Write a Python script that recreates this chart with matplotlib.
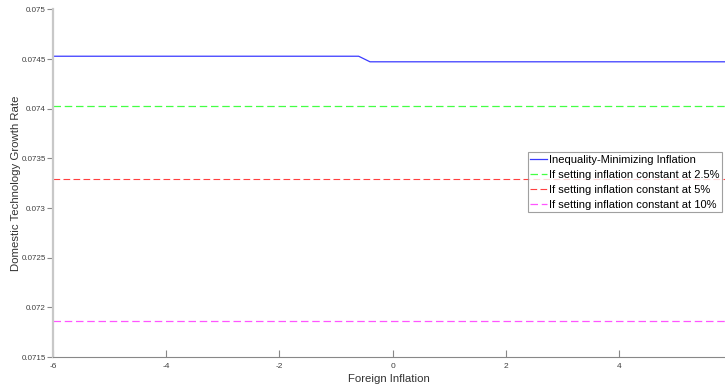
import matplotlib.pyplot as plt

plt.rcParams["font.family"] = ["Liberation Sans", "DejaVu Sans"]

# foreign inflation grid points and growth rate under the optimal policy
foreign_inflation = [-6.0, -0.6, -0.4, 5.9]
optimal_growth = [0.074528, 0.074528, 0.074472, 0.074472]

# growth rates when inflation is held fixed
const_25 = 0.074028
const_5 = 0.073292
const_10 = 0.071865

xticks = [-6, -4, -2, 0, 2, 4]
yticks = [0.0715, 0.072, 0.0725, 0.073, 0.0735, 0.074, 0.0745, 0.075]
ytick_labels = ["0.0715", "0.072", "0.0725", "0.073", "0.0735", "0.074", "0.0745", "0.075"]

fig = plt.figure(figsize=(7.25, 3.89), dpi=100)
ax = fig.add_axes([0.073, 0.082, 0.927, 0.894])

xs = [foreign_inflation[0], foreign_inflation[-1]]
dash = (0, (6, 3))
ax.plot(foreign_inflation, optimal_growth, color="#3a3aff", lw=0.9,
        label="Inequality-Minimizing Inflation")
ax.plot(xs, [const_25] * 2, color="#44ff44", lw=0.9, ls=dash,
        label="If setting inflation constant at 2.5%")
ax.plot(xs, [const_5] * 2, color="#ff4040", lw=0.8, ls=dash,
        label="If setting inflation constant at 5%")
ax.plot(xs, [const_10] * 2, color="#ff55ff", lw=0.9, ls=dash,
        label="If setting inflation constant at 10%")

ax.set_xlim(-6, 5.87)
ax.set_ylim(0.0715, 0.075)
ax.set_xticks(xticks)
ax.set_xticklabels([str(t) for t in xticks])
ax.set_yticks(yticks)
ax.set_yticklabels(ytick_labels)

for s in ["top", "right"]:
    ax.spines[s].set_visible(False)
ax.spines["left"].set_color("#c8c8c8")
ax.spines["left"].set_linewidth(1.6)
ax.spines["bottom"].set_color("#888888")
ax.spines["bottom"].set_linewidth(0.8)
ax.tick_params(axis="x", direction="in", length=5, width=0.8, color="#888888",
               labelsize=6, labelcolor="#404040", pad=4)
ax.tick_params(axis="y", direction="out", length=4, width=0.8, color="#888888",
               labelsize=5.8, labelcolor="#404040", pad=1)

ax.set_xlabel("Foreign Inflation", fontsize=8.2, color="#333333")
ax.set_ylabel("Domestic Technology Growth Rate", fontsize=8.2, color="#333333")
ax.xaxis.set_label_coords(0.5, -0.05)
ax.yaxis.set_label_coords(-0.048, 0.5)

leg = ax.legend(loc="upper right", bbox_to_anchor=(0.996, 0.589), fontsize=8,
                frameon=True, fancybox=False, borderaxespad=0, handlelength=1.5,
                handletextpad=0.2, labelspacing=0.45, borderpad=0.22)
leg.get_frame().set_edgecolor("#888888")
leg.get_frame().set_linewidth(0.8)

fig.savefig("out.png", dpi=100)
